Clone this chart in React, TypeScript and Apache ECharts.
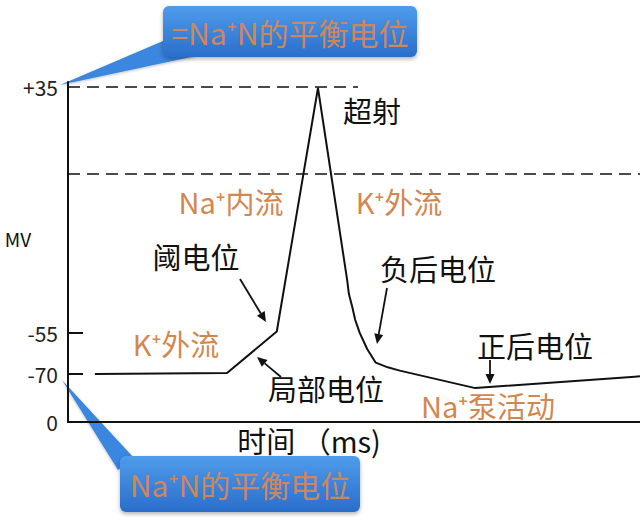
import React, { useEffect, useRef } from "react";
import * as echarts from "echarts";

// Action potential curve (time in ms, membrane potential in mV)
const timeMs = [0.47, 2.78, 3.65, 4.37, 4.88, 4.91, 4.97, 5.02, 5.1, 5.23, 5.38, 5.59, 5.8, 7.12, 9.91, 10.0];
const membraneMv = [-70, -69.7, -54.5, 34.6, -35.6, -40.7, -45.5, -50.2, -55.0, -60.9, -65.9, -67.6, -68.8, -75.2, -71.0, -70.9];

// y-axis tick labels
const yTickValues = [-87.6, -70, -55, 35];
const yTickLabels = ["0", "-70", "-55", "+35"];
const yInnerTicks = [-70, -55];

// dashed reference lines
const overshootLevel = 35;
const overshootEnd = 5.07;
const zeroLevel = 3.2;

const X_MIN = 0;
const X_MAX = 10;
const Y_MIN = -87.6;
const Y_MAX = 36.8;

const ORANGE = "#d2874f";
const FONT = "'Noto Sans CJK SC', 'Noto Sans', sans-serif";

function arrow(x1: number, y1: number, x2: number, y2: number) {
  const dx = x2 - x1;
  const dy = y2 - y1;
  const len = Math.sqrt(dx * dx + dy * dy);
  const ux = dx / len;
  const uy = dy / len;
  const hl = 10;
  const hw = 4.5;
  const bx = x2 - ux * hl;
  const by = y2 - uy * hl;
  return {
    type: "group",
    children: [
      { type: "line", shape: { x1, y1, x2: bx, y2: by }, style: { stroke: "#111", lineWidth: 1.8 } },
      {
        type: "polygon",
        shape: {
          points: [
            [x2, y2],
            [bx - uy * hw, by + ux * hw],
            [bx + uy * hw, by - ux * hw],
          ],
        },
        style: { fill: "#111" },
      },
    ],
  };
}

function label(text: string, x: number, y: number, color: string, size = 29) {
  return {
    type: "text",
    x,
    y,
    style: {
      text,
      fill: color,
      font: `${size}px ${FONT}`,
      textAlign: "center",
      textVerticalAlign: "middle",
    },
  };
}

const blueGrad = {
  type: "linear",
  x: 0,
  y: 0,
  x2: 0,
  y2: 1,
  colorStops: [
    { offset: 0, color: "#4f9ceb" },
    { offset: 1, color: "#2a6ecb" },
  ],
};

function callout(rect: { x: number; y: number; w: number; h: number }, wedge: number[][], text: string) {
  return {
    type: "group",
    children: [
      {
        type: "polygon",
        shape: { points: wedge },
        style: { fill: "#3a86de", shadowBlur: 3, shadowColor: "rgba(0,0,0,0.25)", shadowOffsetY: 1 },
      },
      {
        type: "rect",
        shape: { x: rect.x, y: rect.y, width: rect.w, height: rect.h, r: 6 },
        style: { fill: blueGrad, shadowBlur: 4, shadowColor: "rgba(0,0,0,0.3)", shadowOffsetY: 2 },
      },
      {
        type: "text",
        x: rect.x + rect.w / 2,
        y: rect.y + rect.h / 2,
        style: {
          text,
          fill: "#cf875a",
          font: `30px ${FONT}`,
          textAlign: "center",
          textVerticalAlign: "middle",
        },
      },
    ],
  };
}

export default function App() {
  const ref = useRef<HTMLDivElement>(null);

  useEffect(() => {
    if (!ref.current) return;
    const chart = echarts.init(ref.current, undefined, { renderer: "svg" });
    const data = timeMs.map((t, i) => [t, membraneMv[i]]);
    chart.setOption({
      animation: false,
      backgroundColor: "#ffffff",
      textStyle: { fontFamily: FONT },
      grid: { left: 68, right: 0, top: 82, bottom: 95 },
      xAxis: {
        type: "value",
        min: X_MIN,
        max: X_MAX,
        axisLine: { show: true, onZero: false, lineStyle: { color: "#111", width: 2 } },
        axisTick: { show: false },
        axisLabel: { show: false },
        splitLine: { show: false },
      },
      yAxis: {
        type: "value",
        min: Y_MIN,
        max: Y_MAX,
        axisLine: { show: true, onZero: false, lineStyle: { color: "#111", width: 2 } },
        axisTick: {
          show: true,
          inside: true,
          length: 15,
          customValues: yInnerTicks,
          lineStyle: { color: "#111", width: 2 },
        },
        axisLabel: {
          show: true,
          customValues: yTickValues,
          margin: 10,
          color: "#222",
          fontSize: 21,
          fontFamily: FONT,
          formatter: (v: number) => {
            let best = 0;
            yTickValues.forEach((tv, i) => {
              if (Math.abs(tv - v) < Math.abs(yTickValues[best] - v)) best = i;
            });
            return yTickLabels[best];
          },
        },
        splitLine: { show: false },
      },
      series: [
        {
          type: "line",
          data,
          showSymbol: false,
          clip: false,
          lineStyle: { color: "#111", width: 2 },
          markLine: {
            silent: true,
            symbol: "none",
            label: { show: false },
            lineStyle: { color: "#111", width: 1.6, type: [12, 7] },
            data: [
              [
                { coord: [X_MIN, overshootLevel] },
                { coord: [overshootEnd, overshootLevel] },
              ],
              [
                { coord: [X_MIN, zeroLevel] },
                { coord: [X_MAX, zeroLevel] },
              ],
            ],
          },
        },
      ],
      graphic: [
        label("MV", 18, 238, "#111", 19),
        label("时间 （ms)", 309, 440, "#111", 29),
        label("超射", 372, 110, "#111"),
        label("Na⁺内流", 231, 201, ORANGE),
        label("K⁺外流", 399, 201, ORANGE),
        label("阈电位", 196, 256, "#111"),
        label("负后电位", 438, 268, "#111"),
        label("K⁺外流", 176, 343, ORANGE),
        label("局部电位", 326, 388, "#111"),
        label("正后电位", 535, 345, "#111"),
        label("Na⁺泵活动", 488, 405, ORANGE),
        arrow(240, 279, 266, 322),
        arrow(281, 377, 257, 357),
        arrow(387, 288, 377, 344),
        arrow(490, 360, 490, 384),
        callout(
          { x: 163, y: 6, w: 254, h: 51 },
          [
            [60, 85],
            [170, 38],
            [196, 56],
          ],
          "=Na⁺N的平衡电位"
        ),
        callout(
          { x: 120, y: 456, w: 240, h: 56 },
          [
            [62, 380],
            [118, 470],
            [134, 458],
          ],
          "Na⁺N的平衡电位"
        ),
      ],
    });
    return () => chart.dispose();
  }, []);

  return (
    <div
      ref={ref}
      style={{ position: "fixed", left: 0, top: 0, width: 640, height: 517, background: "#fff" }}
    />
  );
}
